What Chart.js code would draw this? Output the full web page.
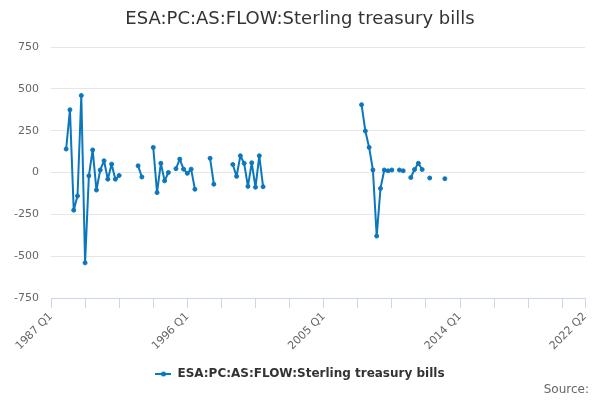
<!DOCTYPE html>
<html lang="en">
<head>
    <meta charset="UTF-8">
    <title>ESA:PC:AS:FLOW:Sterling treasury bills</title>
    <script src="https://cdn.jsdelivr.net/npm/chart.js"></script>
    <style>
        html, body { margin: 0; padding: 0; background: #fff; }
    </style>
</head>
<body>
<canvas id="flowChart" width="600" height="400"></canvas>

<script>
    // quarters 1987 Q1 .. 2022 Q2
    const firstYear = 1987;
    const quarterCount = 142;
    const quarters = [];
    for (let i = 0; i < quarterCount; i++) {
        quarters.push((firstYear + Math.floor(i / 4)) + ' Q' + (i % 4 + 1));
    }

    const tickLabels = ['1987 Q1', '1996 Q1', '2005 Q1', '2014 Q1', '2022 Q2'];
    const tickStep = 9; // a tick mark every 9 quarters

    const seriesName = 'ESA:PC:AS:FLOW:Sterling treasury bills';

    // £m, null where there is no figure
    const values = [
        null, null, null, null, 140, 375, -225, -140,     // 1987-88
        460, -540, -20, 135, -105, 15, 70, -40,           // 1989-90
        50, -40, -18, null, null, null, null, 40,         // 1991-92
        -27, null, null, 150, -120, 55, -50, 0,           // 1993-94
        null, 23, 80, 20, -5, 20, -100, null,             // 1995-96
        null, null, 85, -70, null, null, null, null,      // 1997-98
        48, -23, 100, 55, -83, 58, -88, 100,              // 1999-00
        -85, null, null, null, null, null, null, null,    // 2001-02
        null, null, null, null, null, null, null, null,   // 2003-04
        null, null, null, null, null, null, null, null,   // 2005-06
        null, null, 405, 248, 150, 15, -380, -95,         // 2007-08
        15, 10, 15, null, 15, 10, null, -30,              // 2009-10
        18, 55, 18, null, -33, null, null, null,          // 2011-12
        -37, null, null, null, null, null, null, null,    // 2013-14
        null, null, null, null, null, null, null, null,   // 2015-16
        null, null, null, null, null, null, null, null,   // 2017-18
        null, null, null, null, null, null, null, null,   // 2019-20
        null, null, null, null, null, null                // 2021-22 Q2
    ];

    const lineColor = '#0b77bd';

    Chart.defaults.font.family = '"DejaVu Sans", sans-serif';

    // little line-with-dot symbol for the legend
    const legendMark = document.createElement('canvas');
    legendMark.width = 16;
    legendMark.height = 8;
    const lm = legendMark.getContext('2d');
    lm.strokeStyle = lineColor;
    lm.lineWidth = 2;
    lm.beginPath(); lm.moveTo(0, 4); lm.lineTo(16, 4); lm.stroke();
    lm.fillStyle = lineColor;
    lm.beginPath(); lm.arc(8, 4, 2.5, 0, Math.PI * 2); lm.fill();

    const sourceNote = {
        id: 'sourceNote',
        afterDraw(chart) {
            const c = chart.ctx;
            c.save();
            c.font = '12px "DejaVu Sans"';
            c.fillStyle = '#666';
            c.textAlign = 'right';
            c.textBaseline = 'middle';
            c.fillText('Source:', 589, 390);
            c.restore();
        }
    };

    const ctx = document.getElementById('flowChart').getContext('2d');
    const flowChart = new Chart(ctx, {
        type: 'line',
        data: {
            labels: quarters,
            datasets: [{
                label: seriesName,
                data: values,
                borderColor: lineColor,
                backgroundColor: lineColor,
                borderWidth: 2,
                borderJoinStyle: 'round',
                borderCapStyle: 'round',
                pointRadius: 2,
                pointBorderWidth: 1,
                pointBorderColor: lineColor,
                spanGaps: false,
                tension: 0
            }]
        },
        options: {
            responsive: false,
            animation: false,
            layout: { padding: { left: 0, right: 0, top: 0, bottom: 10 } },
            plugins: {
                title: {
                    display: true,
                    text: seriesName,
                    color: '#333',
                    font: { size: 18, weight: 'normal' },
                    padding: { top: 9, bottom: 16.4 }
                },
                legend: {
                    position: 'bottom',
                    labels: {
                        usePointStyle: true,
                        pointStyle: legendMark,
                        pointStyleWidth: 16,
                        color: '#333',
                        font: { size: 12, weight: 'bold' },
                        padding: 10
                    }
                },
                tooltip: { enabled: false }
            },
            scales: {
                x: {
                    type: 'category',
                    offset: false,
                    grid: {
                        drawOnChartArea: false,
                        drawTicks: true,
                        tickLength: 10,
                        tickColor: '#ccd6eb'
                    },
                    border: { display: true, color: '#ccd6eb', width: 1 },
                    afterBuildTicks(scale) {
                        const t = [];
                        for (let i = 0; i < quarterCount - 1; i += tickStep) t.push({ value: i });
                        t.push({ value: quarterCount - 1 });
                        scale.ticks = t;
                    },
                    afterFit(scale) { scale.height = 60; },
                    ticks: {
                        autoSkip: false,
                        minRotation: 45,
                        maxRotation: 45,
                        padding: 2,
                        color: '#666',
                        font: { size: 11 },
                        callback(value) {
                            const q = quarters[value];
                            return tickLabels.includes(q) ? q : '';
                        }
                    }
                },
                y: {
                    min: -750,
                    max: 750,
                    grid: { color: '#e6e6e6', drawTicks: false },
                    border: { display: false },
                    afterFit(scale) { scale.width = 51; },
                    ticks: {
                        stepSize: 250,
                        padding: 12,
                        color: '#666',
                        font: { size: 11 }
                    }
                },
                // empty strip on the right so the plot ends where the reference does
                yRight: {
                    position: 'right',
                    display: true,
                    grid: { display: false },
                    border: { display: false },
                    ticks: { display: false },
                    afterFit(scale) { scale.width = 15; }
                }
            }
        },
        plugins: [sourceNote]
    });
</script>
</body>
</html>
